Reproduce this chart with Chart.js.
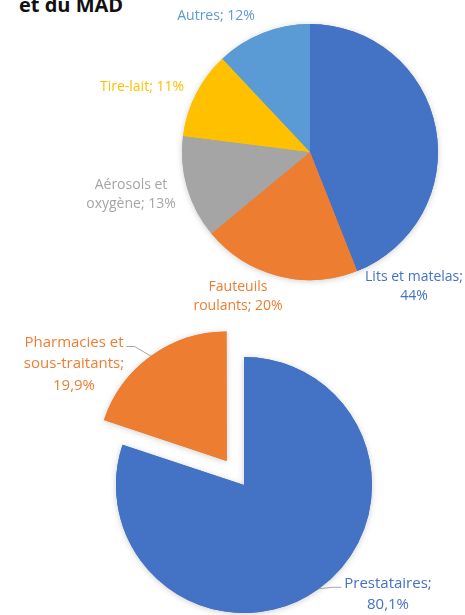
<!DOCTYPE html>
<html>
<head>
<meta charset="utf-8">
<script src="https://cdn.jsdelivr.net/npm/chart.js@4.4.0/dist/chart.umd.min.js"></script>
<style>
    html, body { margin: 0; padding: 0; background: #ffffff; }
    #page { position: relative; width: 465px; height: 615px; overflow: hidden; }
    .title { position: absolute; left: 19px; top: -5px; font: 700 20px 'Open Sans', sans-serif; line-height: 20px; color: #111111; white-space: nowrap; }
    canvas { position: absolute; left: 0; }
</style>
</head>
<body>
<div id="page">
    <div class="title">et du MAD</div>
    <canvas id="typeChart" width="465" height="320" style="top:0"></canvas>
    <canvas id="sourceChart" width="465" height="295" style="top:320px"></canvas>
</div>
<script>
    // répartition par type de matériel (%)
    var typeCategories = ['Lits et matelas', 'Fauteuils\nroulants', 'Aérosols et\noxygène', 'Tire-lait', 'Autres'];
    var typeValues = [44, 20, 13, 11, 12];
    var typeColors = ['#4472C4', '#ED7D31', '#A5A5A5', '#FFC000', '#5B9BD5'];

    // répartition par source (%)
    var sourceCategories = ['Prestataires', 'Pharmacies et\nsous-traitants'];
    var sourceValues = [80.1, 19.9];
    var sourceDecimals = 1;
    var sourceColors = ['#4472C4', '#ED7D31'];

    // layout of the labels, relative to the centre of the pie
    var typeLabelLayout = {
        font: "14px 'Open Sans', sans-serif",
        lineHeight: 19,
        offsets: [[104, 135], [-72, 145], [-179, 43], [-168, -65], [-94, -136]],
        breakBeforeValue: [true, false, false, false, false],
        leaders: false
    };
    var sourceLabelLayout = {
        font: "15px 'Open Sans', sans-serif",
        lineHeight: 21.5,
        offsets: [[144, 109], [-170, -121]],
        breakBeforeValue: [true, true],
        leaders: true
    };

    function formatValue(value, decimals) {
        return value.toFixed(decimals).replace('.', ',') + '%';
    }

    function labelLines(name, value, decimals, breakBefore) {
        var lines = name.split('\n');
        var val = formatValue(value, decimals);

        if (breakBefore) {
            lines[lines.length - 1] += ';';
            lines.push(val);
        } else {
            lines[lines.length - 1] += '; ' + val;
        }

        return lines;
    }

    // same shift that ArcElement.draw applies for an offset slice
    function arcShift(arc) {
        var offset = (arc.options.offset || 0) / 4;
        var fix = 1 - Math.sin(Math.min(Math.PI, arc.circumference || 0));
        return offset + offset * fix;
    }

    var pieShadow = {
        id: 'pieShadow',
        beforeDatasetsDraw: function (chart) {
            var ctx = chart.ctx;
            var meta = chart.getDatasetMeta(0);

            ctx.save();
            ctx.shadowColor = 'rgba(0,0,0,0.2)';
            ctx.shadowBlur = 6;
            ctx.shadowOffsetY = 1;
            meta.data.forEach(function (arc) {
                arc.draw(ctx);
            });
            ctx.restore();
        }
    };

    var pieLabels = {
        id: 'pieLabels',
        afterDatasetsDraw: function (chart, args, options) {
            var ctx = chart.ctx;
            var meta = chart.getDatasetMeta(0);
            var layout = options.layout;

            ctx.save();
            ctx.font = layout.font;
            ctx.textAlign = 'center';
            ctx.textBaseline = 'middle';

            meta.data.forEach(function (arc, i) {
                var lines = labelLines(options.categories[i], options.values[i], options.decimals, layout.breakBeforeValue[i]);
                var cx = arc.x + layout.offsets[i][0];
                var cy = arc.y + layout.offsets[i][1];
                var firstY = cy - (lines.length - 1) * layout.lineHeight / 2;

                if (layout.leaders) {
                    var mid = (arc.startAngle + arc.endAngle) / 2;
                    var r = arc.outerRadius + arcShift(arc);
                    var sx = arc.x + Math.cos(mid) * r;
                    var sy = arc.y + Math.sin(mid) * r;
                    var w = ctx.measureText(lines[0]).width;
                    var side = sx > cx ? 1 : -1;
                    var ex = cx + side * (w / 2 + 3);
                    var ey = firstY + 4;

                    ctx.strokeStyle = '#A6A6A6';
                    ctx.lineWidth = 1;
                    ctx.beginPath();
                    ctx.moveTo(sx, sy);
                    ctx.lineTo(ex + side * 8, ey);
                    ctx.lineTo(ex, ey);
                    ctx.stroke();
                }

                ctx.fillStyle = options.colors[i];
                lines.forEach(function (line, k) {
                    ctx.fillText(line, cx, firstY + k * layout.lineHeight);
                });
            });

            ctx.restore();
        }
    };

    function createPie(canvasId, config) {
        return new Chart(document.getElementById(canvasId), {
            type: 'pie',
            data: {
                labels: config.categories,
                datasets: [{
                    data: config.values,
                    backgroundColor: config.colors,
                    borderWidth: 0,
                    offset: config.offset,
                    radius: 128
                }]
            },
            options: {
                responsive: false,
                animation: false,
                layout: { padding: config.padding },
                plugins: {
                    legend: { display: false },
                    tooltip: { enabled: false },
                    pieLabels: {
                        categories: config.categories,
                        values: config.values,
                        decimals: config.decimals,
                        colors: config.colors,
                        layout: config.labelLayout
                    }
                }
            },
            plugins: [pieShadow, pieLabels]
        });
    }

    createPie('typeChart', {
        categories: typeCategories,
        values: typeValues,
        colors: typeColors,
        decimals: 0,
        offset: 0,
        padding: { left: 155, right: 0, top: 0, bottom: 16 },
        labelLayout: typeLabelLayout
    });

    // chart.js draws a quarter of the offset (plus a small correction)
    createPie('sourceChart', {
        categories: sourceCategories,
        values: sourceValues,
        colors: sourceColors,
        decimals: sourceDecimals,
        offset: [0, 118],
        padding: { left: 23, right: 0, top: 35, bottom: 0 },
        labelLayout: sourceLabelLayout
    });
</script>
</body>
</html>
